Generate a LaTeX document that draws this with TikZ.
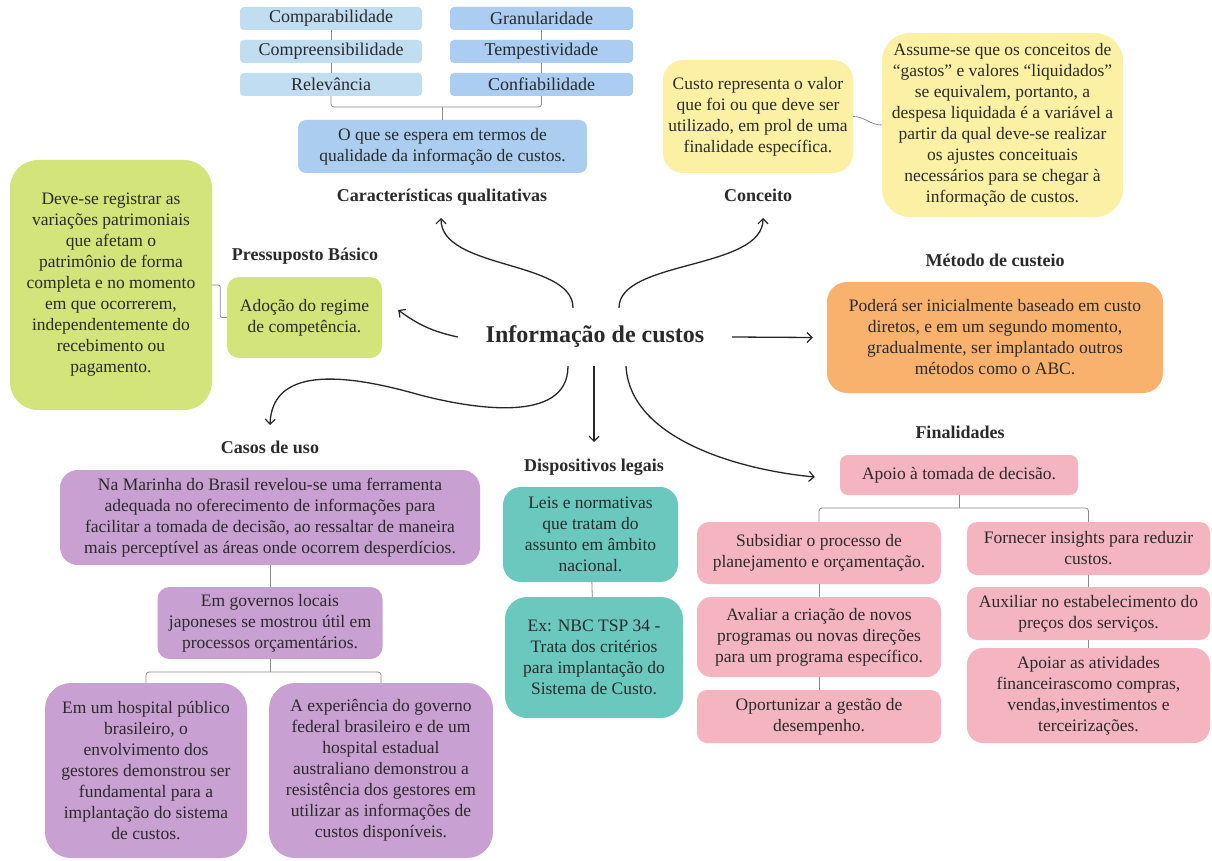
\documentclass[tikz,border=0pt]{standalone}
\usepackage{fontspec}
\setmainfont{Liberation Serif}
\usetikzlibrary{arrows.meta}

\definecolor{txt}{HTML}{2A2A2A}
\definecolor{blueL}{HTML}{C0DDF2}
\definecolor{blueR}{HTML}{AACDF1}
\definecolor{blueM}{HTML}{AACDF0}
\definecolor{yel}{HTML}{FBF0A3}
\definecolor{lime}{HTML}{D3E47A}
\definecolor{orng}{HTML}{F8B26E}
\definecolor{purp}{HTML}{C8A0D2}
\definecolor{teal}{HTML}{6AC8BE}
\definecolor{pnk}{HTML}{F4B5C1}
\definecolor{lnk}{HTML}{8A8A8A}

\tikzset{
  box/.style={rounded corners=#1, inner sep=0pt, align=center, text=txt,
              font=\fontsize{17.5}{21}\selectfont},
  box/.default=10pt,
  sz/.style 2 args={minimum width=#1pt, minimum height=#2pt},
  tag/.style={anchor=base, inner sep=0pt, text=txt,
              font=\fontsize{18}{21}\selectfont\bfseries},
  link/.style={draw=lnk, line width=0.8pt},
  arr/.style={draw=black!85, line width=1.3pt,
              -{Straight Barb[length=5pt,width=10pt,line width=1.2pt]}},
}

\begin{document}
\begin{tikzpicture}[x=1pt, y=-1pt]
\useasboundingbox[fill=white] (0,0) rectangle (1212,861);

% central topic
\node[inner sep=0pt, minimum width=274pt, minimum height=58pt, text=txt,
      font=\fontsize{24}{28}\selectfont\bfseries] (center) at (595,337) {Informação de custos};

% qualitative characteristics
\node[box=4pt, fill=blueL, sz={182}{23}, font=\fontsize{18}{21}\selectfont] (comp)   at (331,18.5) {Comparabilidade};
\node[box=4pt, fill=blueL, sz={182}{23}, font=\fontsize{18}{21}\selectfont] (compre) at (331,51.5) {Compreensibilidade};
\node[box=4pt, fill=blueL, sz={182}{23}, font=\fontsize{18}{21}\selectfont] (relev)  at (331,84.5) {Relevância};
\node[box=4pt, fill=blueR, sz={183}{23}, font=\fontsize{18}{21}\selectfont] (gran)   at (541.5,18.5) {Granularidade};
\node[box=4pt, fill=blueR, sz={183}{23}, font=\fontsize{18}{21}\selectfont] (temp)   at (541.5,51.5) {Tempestividade};
\node[box=4pt, fill=blueR, sz={183}{23}, font=\fontsize{18}{21}\selectfont] (conf)   at (541.5,84.5) {Confiabilidade};
\node[box=8pt, fill=blueM, sz={289}{53}] (quali) at (442.5,146.5)
  {O que se espera em termos de\\qualidade da informação de custos.};
\node[tag] (tagQ) at (442,202) {Características qualitativas};

\draw[link] (comp) -- (compre);
\draw[link] (compre) -- (relev);
\draw[link] (gran) -- (temp);
\draw[link] (temp) -- (conf);
\coordinate (qb) at (442.5,107);
\draw[link, rounded corners=3pt] (relev.south) |- (qb) -| (conf.south);
\draw[link] (quali.north) -- (qb);

% concept
\node[box=20pt, fill=yel, sz={190}{113}] (custo) at (758,116.5)
  {Custo representa o valor\\que foi ou que deve ser\\utilizado, em prol de uma\\finalidade específica.};
\node[box=28pt, fill=yel, sz={241}{184}] (assume) at (1002.5,125)
  {Assume-se que os conceitos de\\“gastos” e valores “liquidados”\\se equivalem, portanto, a\\despesa liquidada é a variável a\\partir da qual deve-se realizar\\os ajustes conceituais\\necessários para se chegar à\\informação de custos.};
\node[tag] (tagC) at (758,202) {Conceito};
\draw[link] (custo.east) to[out=0, in=180] (assume.west);

% basic assumption
\node[box=28pt, fill=lime, sz={202}{250}] (bigGreen) at (111,285)
  {Deve-se registrar as\\variações patrimoniais\\que afetam o\\patrimônio de forma\\completa e no momento\\em que ocorrerem,\\independentemente do\\recebimento ou\\pagamento.};
\node[box=12pt, fill=lime, sz={155}{81}] (adocao) at (304.5,317.5)
  {Adoção do regime\\de competência.};
\node[tag] (tagP) at (305,260) {Pressuposto Básico};
\draw[link, rounded corners=2pt] (bigGreen.east) -- ++(8,0) |- (adocao.west);

% costing method
\node[tag] (tagM) at (995,266) {Método de custeio};
\node[box=20pt, fill=orng, sz={336}{111}] (orange) at (995,337.5)
  {Poderá ser inicialmente baseado em custo\\diretos, e em um segundo momento,\\gradualmente, ser implantado outros\\métodos como o ABC.};

% use cases
\node[tag] (tagU) at (270,453) {Casos de uso};
\node[box=18pt, fill=purp, sz={420}{95}] (marinha) at (270,517.5)
  {Na Marinha do Brasil revelou-se uma ferramenta\\adequada no oferecimento de informações para\\facilitar a tomada de decisão, ao ressaltar de maneira\\mais perceptível as áreas onde ocorrem desperdícios.};
\node[box=12pt, fill=purp, sz={225}{72}] (governos) at (270,623)
  {Em governos locais\\japoneses se mostrou útil em\\processos orçamentários.};
\node[box=26pt, fill=purp, sz={202}{175}] (hospital) at (146,770.5)
  {Em um hospital público\\brasileiro, o\\envolvimento dos\\gestores demonstrou ser\\fundamental para a\\implantação do sistema\\de custos.};
\node[box=26pt, fill=purp, sz={224}{175}] (experiencia) at (381,770.5)
  {A experiência do governo\\federal brasileiro e de um\\hospital estadual\\australiano demonstrou a\\resistência dos gestores em\\utilizar as informações de\\custos disponíveis.};
\draw[link] (marinha) -- (governos);
\coordinate (gb) at (270,672);
\draw[link, rounded corners=3pt] (hospital.north) |- (gb) -| (experiencia.north);
\draw[link] (governos.south) -- (gb);

% legal provisions
\node[tag] (tagD) at (594,471) {Dispositivos legais};
\node[box=18pt, fill=teal, sz={175}{95}] (leis) at (590.5,534.5)
  {Leis e normativas\\que tratam do\\assunto em âmbito\\nacional.};
\node[box=22pt, fill=teal, sz={178}{121}] (ex) at (594,657.5)
  {Ex: NBC TSP 34 -\\Trata dos critérios\\para implantação do\\Sistema de Custo.};
\draw[link] (leis) -- (ex);

% purposes
\node[tag] (tagF) at (960,438) {Finalidades};
\node[box=8pt, fill=pnk, sz={238}{40}] (apoio) at (959,475) {Apoio à tomada de decisão.};
\node[box=12pt, fill=pnk, sz={244}{62}] (subs) at (819,553)
  {Subsidiar o processo de\\planejamento e orçamentação.};
\node[box=14pt, fill=pnk, sz={244}{80}] (aval) at (819,637)
  {Avaliar a criação de novos\\programas ou novas direções\\para um programa específico.};
\node[box=10pt, fill=pnk, sz={244}{53}] (oport) at (819,716.5)
  {Oportunizar a gestão de\\desempenho.};
\node[box=10pt, fill=pnk, sz={243}{53}] (fornecer) at (1088.5,548.5)
  {Fornecer insights para reduzir\\custos.};
\node[box=10pt, fill=pnk, sz={243}{53}] (aux) at (1088.5,613.5)
  {Auxiliar no estabelecimento do\\preços dos serviços.};
\node[box=16pt, fill=pnk, sz={243}{95}] (apoiar) at (1088.5,695.5)
  {Apoiar as atividades\\financeirascomo compras,\\vendas,investimentos e\\terceirizações.};
\draw[link] (subs) -- (aval);
\draw[link] (aval) -- (oport);
\draw[link] (fornecer) -- (aux);
\draw[link] (aux) -- (apoiar);
\coordinate (fb) at (959,508);
\draw[link, rounded corners=3pt] (subs.north) |- (fb) -| (fornecer.north);
\draw[link] (apoio.south) -- (fb);

% arrows from the central topic
\draw[arr] ([xshift=-22pt]center.north) .. controls +(0,-48) and +(0,52) .. ([xshift=-1pt,yshift=-16pt]tagQ.base);
\draw[arr] ([xshift=24pt]center.north) .. controls +(0,-48) and +(0,52) .. ([xshift=5pt,yshift=-16pt]tagC.base);
\draw[arr] (center.west) to[bend left=12] ([xshift=16pt,yshift=7.5pt]adocao.east);
\draw[arr] ([xshift=-27pt]center.south) .. controls +(0,59) and +(50,13) .. (420,395)
           .. controls +(-80,-23) and +(2,-57) .. ([yshift=28pt]tagU.base);
\draw[arr] ([xshift=-1pt]center.south) -- ([yshift=29pt]tagD.base);
\draw[arr] ([xshift=31pt]center.south) .. controls +(4,73) and +(-75,-7) .. ([xshift=-25pt,yshift=-2pt]apoio.west);
\draw[arr] (center.east) -- ([xshift=-14pt]orange.west);
\end{tikzpicture}
\end{document}
